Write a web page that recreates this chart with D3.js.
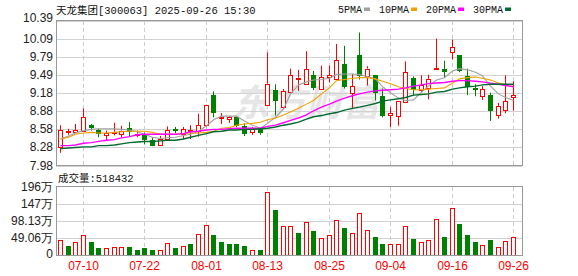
<!DOCTYPE html>
<html>
<head>
<meta charset="utf-8">
<script src="https://cdn.jsdelivr.net/npm/d3@7"></script>
<style>
  body { margin: 0; background: #fff; }
  svg { display: block; }
</style>
</head>
<body>
<svg id="chart" width="578" height="276"></svg>
<script>
// trading days shown, 2025-07-07 .. 2025-09-26
const dates = [
  "07-07","07-08","07-09","07-10","07-11","07-14","07-15","07-16","07-17","07-18",
  "07-21","07-22","07-23","07-24","07-25","07-28","07-29","07-30","07-31","08-01",
  "08-04","08-05","08-06","08-07","08-08","08-11","08-12","08-13","08-14","08-15",
  "08-18","08-19","08-20","08-21","08-22","08-25","08-26","08-27","08-28","08-29",
  "09-01","09-02","09-03","09-04","09-05","09-08","09-09","09-10","09-11","09-12",
  "09-15","09-16","09-17","09-18","09-19","09-22","09-23","09-24","09-25","09-26"
];

const opens = [
  8.29,8.53,8.53,8.56,8.65,8.57,8.48,8.52,8.50,8.60,
  8.48,8.49,8.40,8.32,8.42,8.58,8.50,8.55,8.55,8.65,
  9.16,8.77,8.76,8.78,8.64,8.53,8.58,8.98,9.24,8.95,
  9.20,9.41,9.34,9.48,9.25,9.45,9.42,9.67,9.19,9.82,
  9.46,9.48,9.14,8.82,8.80,9.03,9.43,9.24,9.26,9.59,
  9.59,9.86,9.81,9.47,9.26,9.13,9.15,8.82,8.90,9.12
];
const closes = [
  8.57,8.55,8.57,8.78,8.60,8.50,8.52,8.54,8.56,8.53,
  8.51,8.40,8.31,8.42,8.57,8.56,8.58,8.57,8.65,8.98,
  8.85,8.79,8.78,8.64,8.50,8.59,8.52,9.34,9.05,9.22,
  9.48,9.44,9.58,9.27,9.45,9.48,9.73,9.28,9.30,9.47,
  9.59,9.19,8.81,8.85,9.05,9.53,9.23,9.31,9.42,9.60,
  9.53,9.95,9.55,9.28,9.23,9.25,8.89,8.97,9.05,9.15
];
const highs = [
  8.65,8.59,8.67,8.93,8.67,8.59,8.56,8.69,8.64,8.70,
  8.56,8.53,8.45,8.47,8.63,8.62,8.62,8.65,8.84,8.99,
  9.21,8.85,8.80,8.80,8.68,8.62,8.60,9.86,9.33,9.25,
  9.59,9.57,9.88,9.55,9.64,9.64,10.00,9.97,9.50,10.19,
  9.63,9.48,9.26,8.95,9.05,9.71,9.46,9.48,9.49,10.09,
  9.72,10.07,9.81,9.59,9.33,9.30,9.19,9.02,9.48,9.38
];
const lows = [
  8.19,8.49,8.52,8.55,8.56,8.45,8.39,8.48,8.45,8.46,
  8.45,8.33,8.30,8.31,8.40,8.52,8.42,8.42,8.46,8.63,
  8.78,8.67,8.69,8.62,8.47,8.49,8.49,8.98,8.81,8.91,
  9.20,9.22,9.34,9.23,9.25,9.36,9.42,9.26,8.92,9.41,
  9.31,9.06,8.78,8.62,8.64,9.03,9.14,9.20,9.08,9.59,
  9.44,9.74,9.53,9.15,9.13,9.07,8.72,8.76,8.85,8.89
];
// volume, in 万 (10k shares)
const volumes = [
  44.6,28.4,37,58.8,39.8,20,21.8,24.6,24.6,24.6,
  17,22.7,17,16,36,20,27.5,31.3,61.6,88,
  56.9,37.9,31.3,31.3,25.6,16,17,182,128,85.3,
  84.3,65.4,96.7,68.3,50.2,59.7,101.5,76.8,62.6,121.3,
  73,51.2,34.1,31.3,34.1,85.3,48.3,37,42.7,104.3,
  51.2,136.5,88.2,59.7,39.8,30.3,42.7,24.6,41.7,51.84
];

const ma5 = [
  8.42,8.47,8.52,8.56,8.58,8.59,8.59,8.59,8.58,8.57,
  8.54,8.50,8.45,8.43,8.44,8.45,8.48,8.50,8.55,8.64,
  8.74,8.80,8.80,8.80,8.72,8.65,8.60,8.68,8.78,8.92,
  9.17,9.32,9.37,9.40,9.41,9.43,9.49,9.50,9.50,9.49,
  9.46,9.42,9.29,9.19,9.10,9.06,9.07,9.20,9.30,9.40,
  9.44,9.55,9.59,9.57,9.53,9.47,9.30,9.17,9.11,9.06
];
const ma10 = [
  8.42,8.45,8.50,8.52,8.53,8.52,8.52,8.53,8.54,8.55,
  8.55,8.55,8.53,8.50,8.50,8.50,8.51,8.52,8.52,8.53,
  8.55,8.60,8.61,8.65,8.67,8.68,8.70,8.74,8.77,8.82,
  8.87,8.93,9.00,9.06,9.17,9.27,9.39,9.41,9.43,9.44,
  9.44,9.42,9.38,9.34,9.29,9.26,9.24,9.24,9.25,9.26,
  9.27,9.35,9.42,9.44,9.45,9.43,9.40,9.35,9.32,9.29
];
const ma20 = [
  8.31,8.31,8.32,8.35,8.36,8.38,8.40,8.41,8.44,8.46,
  8.49,8.50,8.50,8.50,8.50,8.50,8.51,8.54,8.55,8.57,
  8.58,8.58,8.59,8.60,8.60,8.60,8.60,8.63,8.65,8.69,
  8.73,8.77,8.82,8.89,8.95,9.00,9.05,9.10,9.14,9.17,
  9.20,9.22,9.23,9.24,9.25,9.27,9.30,9.32,9.34,9.35,
  9.36,9.38,9.39,9.39,9.38,9.37,9.35,9.33,9.31,9.29
];
const ma30 = [
  8.26,8.27,8.28,8.29,8.29,8.31,8.31,8.32,8.34,8.36,
  8.37,8.38,8.38,8.39,8.40,8.40,8.42,8.45,8.48,8.51,
  8.54,8.55,8.57,8.57,8.58,8.58,8.59,8.60,8.62,8.65,
  8.67,8.70,8.75,8.79,8.81,8.84,8.86,8.90,8.93,8.95,
  8.98,9.01,9.05,9.07,9.09,9.11,9.15,9.16,9.17,9.20,
  9.21,9.25,9.27,9.29,9.30,9.32,9.33,9.33,9.33,9.33
];

const dateTicks = ["07-10","07-22","08-01","08-13","08-25","09-04","09-16","09-26"];
const priceTicks = [10.39, 10.09, 9.79, 9.49, 9.18, 8.88, 8.58, 8.28, 7.98];
const volTicks = [196, 147, 98.13, 49.06, 0];
const volTickLabels = ["196万", "147万", "98.13万", "49.06万", "0"];
const maNames = ["5PMA", "10PMA", "20PMA", "30PMA"];
const maColors = ["#a0a0a0", "#f0a000", "#ff00ff", "#006a30"];
const title = "天龙集团[300063] 2025-09-26 15:30";
const volTitle = "成交量:518432";

const RED = "#ff0000", GREEN = "#008000";
const left = 56, right = 522;
const svg = d3.select("#chart");

const x = d3.scaleBand().domain(dates).range([left, left + dates.length * 7.68]);
const cx = d => Math.round(x(d) + x.bandwidth() / 2);

const y = d3.scaleLinear().domain([7.98, 10.39]).range([165.5, 20.5]);
const yv = d3.scaleLinear().domain([0, 196.26]).range([255.5, 186.5]);

const monoFont = "'Liberation Mono','Noto Sans CJK SC',monospace";
const axisFont = "'Liberation Sans',Arial,sans-serif";

// ---- watermark
svg.append("text")
  .attr("x", 232).attr("y", 116)
  .attr("fill", "#e6e6e6")
  .style("font-family", "'Noto Sans CJK SC',sans-serif")
  .style("font-size", "37px")
  .style("font-weight", "bold")
  .style("font-style", "italic")
  .text("东方财富");

// ---- grids
function hGrid(g, ticks, scale) {
  g.selectAll("line.h").data(ticks).join("line")
    .attr("x1", left).attr("x2", right)
    .attr("y1", d => Math.round(scale(d)) + 0.5)
    .attr("y2", d => Math.round(scale(d)) + 0.5)
    .attr("stroke", "#d2d2d2");
}
function vGrid(g, y0, y1) {
  g.selectAll("line.v").data(dateTicks).join("line")
    .attr("x1", d => cx(d) + 0.5).attr("x2", d => cx(d) + 0.5)
    .attr("y1", y0).attr("y2", y1)
    .attr("stroke", "#cccccc")
    .attr("stroke-dasharray", "4,3");
}

const gridMain = svg.append("g");
hGrid(gridMain, priceTicks, y);
vGrid(gridMain, 21, 165);
const gridVol = svg.append("g");
hGrid(gridVol, volTicks.slice(1, 4), yv);
vGrid(gridVol, 187, 255);

// ---- candles
const candles = svg.append("g");
dates.forEach((d, i) => {
  const c = cx(d) + 0.5;
  const o = opens[i], cl = closes[i];
  const up = cl >= o;
  const top = y(Math.max(o, cl)), bot = y(Math.min(o, cl));
  const col = up ? RED : GREEN;
  if (up) {
    candles.append("line").attr("x1", c).attr("x2", c)
      .attr("y1", y(highs[i])).attr("y2", top).attr("stroke", col);
    candles.append("line").attr("x1", c).attr("x2", c)
      .attr("y1", bot).attr("y2", y(lows[i])).attr("stroke", col);
    candles.append("rect")
      .attr("x", c - 2).attr("width", 4)
      .attr("y", Math.round(top) + 0.5)
      .attr("height", Math.max(0, Math.round(bot) - Math.round(top)))
      .attr("fill", "#fff").attr("stroke", col);
  } else {
    candles.append("line").attr("x1", c).attr("x2", c)
      .attr("y1", y(highs[i])).attr("y2", y(lows[i])).attr("stroke", col);
    candles.append("rect")
      .attr("x", c - 2.5).attr("width", 5)
      .attr("y", Math.round(top))
      .attr("height", Math.max(1, Math.round(bot) - Math.round(top)))
      .attr("fill", col);
  }
});

// ---- moving averages
const line = d3.line().x((d, i) => cx(dates[i]) + 0.5).y(d => y(d));
[ma5, ma10, ma20, ma30].forEach((s, k) => {
  svg.append("path")
    .datum(s)
    .attr("d", line)
    .attr("fill", "none")
    .attr("stroke", maColors[k])
    .attr("stroke-width", k >= 2 ? 1.4 : 1.1);
});

// ---- volume bars (colour by close vs previous close)
const vol = svg.append("g");
dates.forEach((d, i) => {
  const c = cx(d) + 0.5;
  const up = i === 0 || closes[i] >= closes[i - 1];
  const t = Math.round(yv(volumes[i]));
  if (up) {
    vol.append("rect")
      .attr("x", c - 2).attr("width", 4)
      .attr("y", t + 0.5).attr("height", 255 - t)
      .attr("fill", "#fff").attr("stroke", RED);
  } else {
    vol.append("rect")
      .attr("x", c - 2.5).attr("width", 5)
      .attr("y", t).attr("height", 256 - t)
      .attr("fill", GREEN);
  }
});

// ---- frames
svg.append("rect").attr("x", left + 0.5).attr("y", 20.5)
  .attr("width", right - left).attr("height", 145)
  .attr("fill", "none").attr("stroke", "#999");
svg.append("rect").attr("x", left + 0.5).attr("y", 186.5)
  .attr("width", right - left).attr("height", 69)
  .attr("fill", "none").attr("stroke", "#999");

// ---- axis labels
svg.append("g").selectAll("text").data(priceTicks).join("text")
  .attr("x", 53)
  .attr("y", (d, i) => y(d) + (i === 0 ? -2.5 : 0))
  .attr("text-anchor", "end")
  .attr("dominant-baseline", "central")
  .attr("fill", "#222")
  .style("font-family", axisFont)
  .style("font-size", "12px")
  .text(d => d.toFixed(2));

svg.append("g").selectAll("text").data(volTicks).join("text")
  .attr("x", 53)
  .attr("y", d => yv(d) - (d === 0 ? 1.5 : 0))
  .attr("text-anchor", "end")
  .attr("dominant-baseline", "central")
  .attr("fill", "#222")
  .style("font-family", axisFont)
  .style("font-size", "12px")
  .text((d, i) => volTickLabels[i]);

svg.append("g").selectAll("text").data(dateTicks).join("text")
  .attr("x", d => cx(d) + 0.5)
  .attr("y", 270)
  .attr("text-anchor", "middle")
  .attr("fill", RED)
  .style("font-family", axisFont)
  .style("font-size", "12px")
  .text(d => d);

// ---- titles
svg.append("text").attr("x", 56).attr("y", 14)
  .attr("fill", "#111")
  .style("font-family", monoFont).style("font-size", "10.5px")
  .text(title);

svg.append("text").attr("x", 58).attr("y", 182)
  .attr("fill", "#111")
  .style("font-family", monoFont).style("font-size", "10.5px")
  .text(volTitle);

// ---- legend
const legend = svg.append("g");
let lx = 338;
maNames.forEach((name, k) => {
  const t = legend.append("text").attr("x", lx).attr("y", 13)
    .attr("fill", "#111")
    .style("font-family", monoFont).style("font-size", "10px")
    .text(name);
  const w = t.node().getComputedTextLength();
  legend.append("rect")
    .attr("x", lx + w + 2).attr("y", 7.5)
    .attr("width", 6).attr("height", 3.5)
    .attr("fill", maColors[k]);
  lx += w + 17;
});
</script>
</body>
</html>
